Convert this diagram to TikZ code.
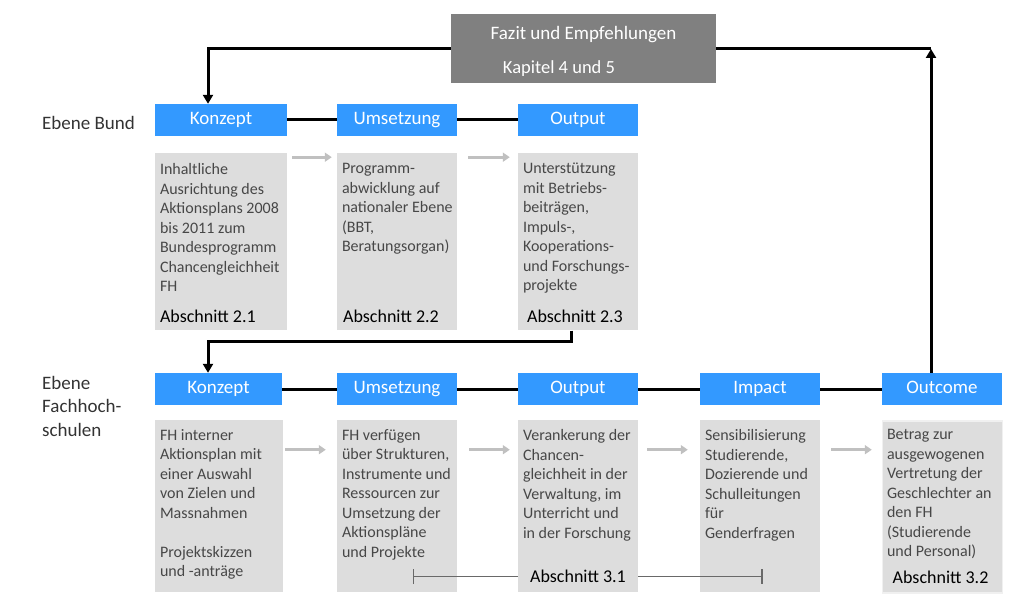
\documentclass[tikz,border=0pt]{standalone}
\usepackage{fontspec}
\setmainfont{Carlito}
\usetikzlibrary{arrows.meta}
\definecolor{headblue}{RGB}{51,153,255}
\definecolor{boxgray}{RGB}{221,221,221}
\definecolor{fazitgray}{RGB}{128,128,128}
\definecolor{flowgray}{RGB}{192,192,192}
\definecolor{bracketgray}{RGB}{105,105,105}
\NewDocumentCommand{\bodyfont}{}{\fontsize{16}{19.5}\selectfont}
\NewDocumentCommand{\headfont}{}{\fontsize{19}{22}\selectfont}
\NewDocumentCommand{\secfont}{}{\fontsize{18}{20}\selectfont}
\tikzset{/EV/head/.style={
	fill=headblue, text=white, minimum width=120pt, minimum height=32pt, inner sep=0,
	text height=0.86em, text depth=0pt, font=\headfont
}}
\tikzset{/EV/box/.style={
	fill=boxgray, anchor=north west, minimum width=120pt, inner sep=0
}}
\tikzset{/EV/body/.style={
	anchor=north west, align=left, inner sep=0, text=black!72, font=\bodyfont
}}
\tikzset{/EV/sec/.style={
	anchor=base, inner sep=0, font=\secfont
}}
\tikzset{/EV/link/.style={
	line width=3pt, draw=black
}}
\tikzset{/EV/flow/.style={
	line width=3pt, draw=flowgray, -{Triangle[length=7pt, width=9pt]}
}}
\tikzset{/EV/bracket/.style={
	line width=1.5pt, draw=bracketgray
}}

\begin{document}
\begin{tikzpicture}[x=1pt, y=-1pt]
				\useasboundingbox (0,0) rectangle (1022,599);
				\path (583.5,49) node[fill=fazitgray, minimum width=265pt, minimum height=69pt, inner sep=0] (fazit) {};
				\path (fazit.center) ++ (0,-14) node[text=white, font=\fontsize{19}{21}\selectfont] (fazittitle) {Fazit und Empfehlungen};
				\path (fazit.center) ++ (-24.5,20) node[text=white, font=\fontsize{18.5}{20}\selectfont] (kapitel) {Kapitel 4 und 5};
				\path (42,123) node[anchor=west, inner sep=0, text=black!80, font=\headfont] (bund) {Ebene Bund};
				\path (42,376) node[anchor=north west, align=left, inner sep=0, text=black!80, font=\fontsize{19}{23.5}\selectfont] (fh) {Ebene\\Fachhoch-\\schulen};
				\path (221,120) node[/EV/head, minimum width=132pt] (BK) {Konzept};
				\path (BK.center) ++ (176,0) node[/EV/head] (BU) {Umsetzung};
				\path (BU.center) ++ (181,0) node[/EV/head] (BO) {Output};
				\path (218.5,389) node[/EV/head, minimum width=127pt] (FK) {Konzept};
				\path (FK.center) ++ (178.5,0) node[/EV/head] (FU) {Umsetzung};
				\path (FU.center) ++ (181,0) node[/EV/head] (FO) {Output};
				\path (FO.center) ++ (182,0) node[/EV/head] (FI) {Impact};
				\path (FI.center) ++ (182,0) node[/EV/head] (FC) {Outcome};
				\path (BK.south west) ++ (0,17) node[/EV/box, minimum width=132pt, minimum height=177pt] (bk) {};
				\path (BU.south west) ++ (0,17) node[/EV/box, minimum height=177pt] (bu) {};
				\path (BO.south west) ++ (0,17) node[/EV/box, minimum height=177pt] (bo) {};
				\path (FK.south west) ++ (0,15) node[/EV/box, minimum width=128pt, minimum height=172pt] (fk) {};
				\path (FU.south west) ++ (0,15) node[/EV/box, minimum height=172pt] (fu) {};
				\path (FO.south west) ++ (0,15) node[/EV/box, minimum height=172pt] (fo) {};
				\path (FI.south west) ++ (0,15) node[/EV/box, minimum height=172pt] (fi) {};
				\path (FC.south west) ++ (0,15) node[/EV/box, minimum height=172pt, draw=boxgray!45!white, line width=1.5pt] (fc) {};
				\path (bk.north west) ++ (5,10) node[/EV/body] (bktext) {Inhaltliche\\Ausrichtung des\\Aktionsplans 2008\\bis 2011 zum\\Bundesprogramm\\Chancengleichheit\\FH};
				\path (bu.north west) ++ (5,10) node[/EV/body] (butext) {Programm-\\abwicklung auf\\nationaler Ebene\\(BBT,\\Beratungsorgan)};
				\path (bo.north west) ++ (5,10) node[/EV/body] (botext) {Unterstützung\\mit Betriebs-\\beiträgen,\\Impuls-,\\Kooperations-\\und Forschungs-\\projekte};
				\path (fk.north west) ++ (5,9) node[/EV/body] (fktext) {FH interner\\Aktionsplan mit\\einer Auswahl\\von Zielen und\\Massnahmen\\[19.5pt]Projektskizzen\\und -anträge};
				\path (fu.north west) ++ (5,9) node[/EV/body] (futext) {FH verfügen\\über Strukturen,\\Instrumente und\\Ressourcen zur\\Umsetzung der\\Aktionspläne\\und Projekte};
				\path (fo.north west) ++ (5,9) node[/EV/body] (fotext) {Verankerung der\\Chancen-\\gleichheit in der\\Verwaltung, im\\Unterricht und\\in der Forschung};
				\path (fi.north west) ++ (5,9) node[/EV/body] (fitext) {Sensibilisierung\\Studierende,\\Dozierende und\\Schulleitungen\\für\\Genderfragen};
				\path (fc.north west) ++ (5,9) node[/EV/body] (fctext) {Betrag zur\\ausgewogenen\\Vertretung der\\Geschlechter an\\den FH\\(Studierende\\und Personal)};
				\path (bk.south west) ++ (5,-8) node[/EV/sec, anchor=base west] (sec21) {Abschnitt 2.1};
				\path (bu.south) ++ (-6,-8) node[/EV/sec] (sec22) {Abschnitt 2.2};
				\path (bo.south) ++ (-3,-8) node[/EV/sec] (sec23) {Abschnitt 2.3};
				\path (fo.south) ++ (0,-10) node[/EV/sec] (sec31) {Abschnitt 3.1};
				\path (fc.south) ++ (-2,-10) node[/EV/sec] (sec32) {Abschnitt 3.2};
				\foreach \a/\b in {BK/BU, BU/BO, FK/FU, FU/FO, FO/FI, FI/FC}
					\draw[/EV/link] (\a) -- (\b);
				\draw[/EV/link, -{Triangle[length=9pt, width=10pt]}] (fazit.west) -| ([xshift=-13pt]BK.north);
				\coordinate (up) at ([xshift=-11pt]FC.north);
				\coordinate (turn) at (up |- fazit.east);
				\draw[/EV/link, -{Triangle[length=9pt, width=10pt]}] (up) -- (turn);
				\draw[/EV/link] (turn) -- (fazit.east);
				\draw[/EV/link, -{Triangle[length=9pt, width=10pt]}] ([xshift=-6.5pt]bo.south) -- ++ (0,10.5) -| ([xshift=-10.5pt]FK.north);
				\draw[/EV/flow] ([shift={(5,4)}]bk.north east) -- ([shift={(-5,4)}]bu.north west);
				\draw[/EV/flow] ([shift={(11,4)}]bu.north east) -- ([shift={(-8,4)}]bo.north west);
				\foreach \a/\b/\s/\e in {fk/fu/2/-11, fu/fo/12/-8, fo/fi/9/-12, fi/fc/11/-10}
					\draw[/EV/flow] ([shift={(\s,29.5)}]\a.north east) -- ([shift={(\e,29.5)}]\b.north west);
				\coordinate (s31a) at ([shift={(76,-16)}]fu.south west);
				\coordinate (s31b) at ([shift={(63,-16)}]fi.south west);
				\draw[/EV/bracket, {Bar[width=15pt]}-] (s31a) -- (s31a -| fo.west);
				\draw[/EV/bracket, -{Bar[width=15pt]}] (s31a -| fo.east) -- (s31b);
			\end{tikzpicture}
\end{document}
